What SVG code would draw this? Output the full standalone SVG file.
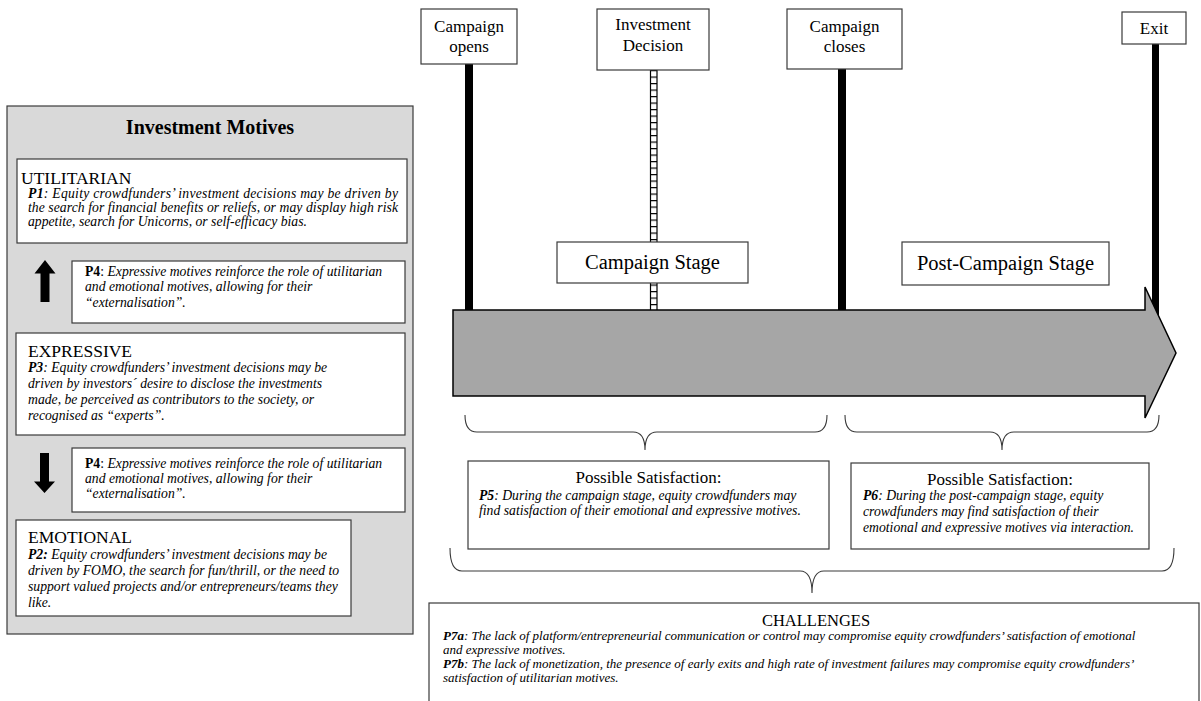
<svg xmlns="http://www.w3.org/2000/svg" width="1201" height="701" viewBox="0 0 1201 701">
<style>
text{font-family:"Liberation Serif","Times New Roman",serif;fill:#000}
.box{fill:#fff;stroke:#3a3a3a;stroke-width:1.2}
.it{font-style:italic;font-size:13.7px}
.it2{font-style:italic;font-size:13px}
.b{font-weight:bold}
.lbl{font-size:17.5px}
.ev{font-size:17px;text-anchor:middle}
.stage{font-size:20.5px;text-anchor:middle}
.brace{fill:none;stroke:#3a3a3a;stroke-width:1.1}
.bar{fill:#000}
</style>
<defs>
<pattern id="ladder" patternUnits="userSpaceOnUse" x="0" y="70" width="8" height="6.5">
<rect x="0" y="0" width="8" height="6.5" fill="#fff"/>
<line x1="0" y1="0.6" x2="8" y2="0.6" stroke="#000" stroke-width="1.2"/>
</pattern>
</defs>
<rect width="1201" height="701" fill="#fff"/>

<g id="motives-panel">
<rect x="7" y="106" width="406" height="528" fill="#d9d9d9" stroke="#3a3a3a" stroke-width="1.2"/>
<text x="210" y="134" font-size="20" font-weight="bold" text-anchor="middle">Investment Motives</text>
</g>

<g id="utilitarian">
<rect class="box" x="17" y="159" width="390" height="84"/>
<text class="lbl" x="21" y="184">UTILITARIAN</text>
<text class="it" x="28" y="198" textLength="370" lengthAdjust="spacing"><tspan class="b">P1</tspan>: Equity crowdfunders’ investment decisions may be driven by</text>
<text class="it" x="28" y="212" textLength="370" lengthAdjust="spacing">the search for financial benefits or reliefs, or may display high risk</text>
<text class="it" x="28" y="226">appetite, search for Unicorns, or self-efficacy bias.</text>
</g>

<g id="p4-up">
<rect class="box" x="72" y="261" width="333" height="62"/>
<text class="it" x="85" y="276"><tspan class="b" font-style="normal">P4</tspan><tspan font-style="normal">:</tspan> Expressive motives reinforce the role of utilitarian</text>
<text class="it" x="85" y="291">and emotional motives, allowing for their</text>
<text class="it" x="85" y="307">“externalisation”.</text>
</g>

<g id="expressive">
<rect class="box" x="16" y="333" width="389" height="102"/>
<text class="lbl" x="28" y="357">EXPRESSIVE</text>
<text class="it" x="28" y="372"><tspan class="b">P3</tspan>: Equity crowdfunders’ investment decisions may be</text>
<text class="it" x="28" y="388">driven by investors´ desire to disclose the investments</text>
<text class="it" x="28" y="404">made, be perceived as contributors to the society, or</text>
<text class="it" x="28" y="420">recognised as “experts”.</text>
</g>

<g id="p4-down">
<rect class="box" x="72" y="448" width="333" height="64"/>
<text class="it" x="85" y="468"><tspan class="b" font-style="normal">P4</tspan><tspan font-style="normal">:</tspan> Expressive motives reinforce the role of utilitarian</text>
<text class="it" x="85" y="483">and emotional motives, allowing for their</text>
<text class="it" x="85" y="498">“externalisation”.</text>
</g>

<g id="emotional">
<rect class="box" x="16" y="520" width="335" height="96"/>
<text class="lbl" x="28" y="543">EMOTIONAL</text>
<text class="it" x="28" y="559"><tspan class="b">P2:</tspan> Equity crowdfunders’ investment decisions may be</text>
<text class="it" x="28" y="575">driven by FOMO, the search for fun/thrill, or the need to</text>
<text class="it" x="28" y="591">support valued projects and/or entrepreneurs/teams they</text>
<text class="it" x="28" y="607">like.</text>
</g>

<g id="connectors">
<polygon class="bar" points="45,260 55.5,273.5 49.5,273.5 49.5,302 40.5,302 40.5,273.5 34.5,273.5"/>
<polygon class="bar" points="44.5,493 55,481.5 49,481.5 49,453 40,453 40,481.5 34,481.5"/>
<rect class="bar" x="465" y="64" width="8" height="248"/>
<rect x="650.5" y="70" width="6.5" height="241" fill="url(#ladder)" stroke="#000" stroke-width="1.2"/>
<rect class="bar" x="838" y="69" width="8" height="243"/>
<rect class="bar" x="1152" y="44" width="7" height="290"/>
<path class="brace" d="M465,415 Q465,432 477,432 L633,432 Q645,432 645,450 Q645,432 657,432 L815,432 Q827,432 827,415"/>
<path class="brace" d="M845,415 Q845,432 857,432 L990,432 Q1002,432 1002,450 Q1002,432 1014,432 L1147,432 Q1159,432 1159,415"/>
<path class="brace" d="M450,548 Q450,571 462,571 L800,571 Q812,571 812,593 Q812,571 824,571 L1162,571 Q1174,571 1174,548"/>
</g>

<g id="timeline-arrow">
<polygon points="453,310 1145,310 1145,287 1176,353 1145,418 1145,396 453,396" fill="#a6a6a6" stroke="#000" stroke-width="1.5" stroke-linejoin="miter"/>
</g>

<g id="campaign-opens">
<rect class="box" x="421" y="9" width="96" height="55"/>
<text class="ev" x="469" y="32">Campaign</text>
<text class="ev" x="469" y="52">opens</text>
</g>

<g id="investment-decision">
<rect class="box" x="597" y="9" width="112" height="61"/>
<text class="ev" x="653" y="30">Investment</text>
<text class="ev" x="653" y="51">Decision</text>
</g>

<g id="campaign-closes">
<rect class="box" x="787" y="9" width="115" height="60"/>
<text class="ev" x="844.5" y="32">Campaign</text>
<text class="ev" x="844.5" y="52">closes</text>
</g>

<g id="exit">
<rect class="box" x="1122" y="12" width="64" height="32"/>
<text class="ev" x="1154" y="34">Exit</text>
</g>

<g id="campaign-stage">
<rect class="box" x="557" y="242" width="191" height="41"/>
<text class="stage" x="652.5" y="269">Campaign Stage</text>
</g>

<g id="post-campaign-stage">
<rect class="box" x="902" y="242" width="207" height="43"/>
<text class="stage" x="1005.5" y="270">Post-Campaign Stage</text>
</g>

<g id="satisfaction-p5">
<rect class="box" x="468" y="461" width="361" height="88"/>
<text x="648.5" y="483" font-size="17" text-anchor="middle">Possible Satisfaction:</text>
<text class="it" x="479" y="500"><tspan class="b">P5</tspan>: During the campaign stage, equity crowdfunders may</text>
<text class="it" x="479" y="515">find satisfaction of their emotional and expressive motives.</text>
</g>

<g id="satisfaction-p6">
<rect class="box" x="851" y="463" width="298" height="86"/>
<text x="1000" y="485" font-size="17" text-anchor="middle">Possible Satisfaction:</text>
<text class="it" x="863" y="500"><tspan class="b">P6</tspan>: During the post-campaign stage, equity</text>
<text class="it" x="863" y="516">crowdfunders may find satisfaction of their</text>
<text class="it" x="863" y="532">emotional and expressive motives via interaction.</text>
</g>

<g id="challenges">
<rect class="box" x="429" y="603" width="770" height="110"/>
<text x="816" y="626" font-size="16.5" text-anchor="middle">CHALLENGES</text>
<text class="it2" x="443" y="640"><tspan class="b">P7a</tspan>: The lack of platform/entrepreneurial communication or control may compromise equity crowdfunders’ satisfaction of emotional</text>
<text class="it2" x="443" y="654">and expressive motives.</text>
<text class="it2" x="443" y="668"><tspan class="b">P7b</tspan>: The lack of monetization, the presence of early exits and high rate of investment failures may compromise equity crowdfunders’</text>
<text class="it2" x="443" y="682">satisfaction of utilitarian motives.</text>
</g>
</svg>
